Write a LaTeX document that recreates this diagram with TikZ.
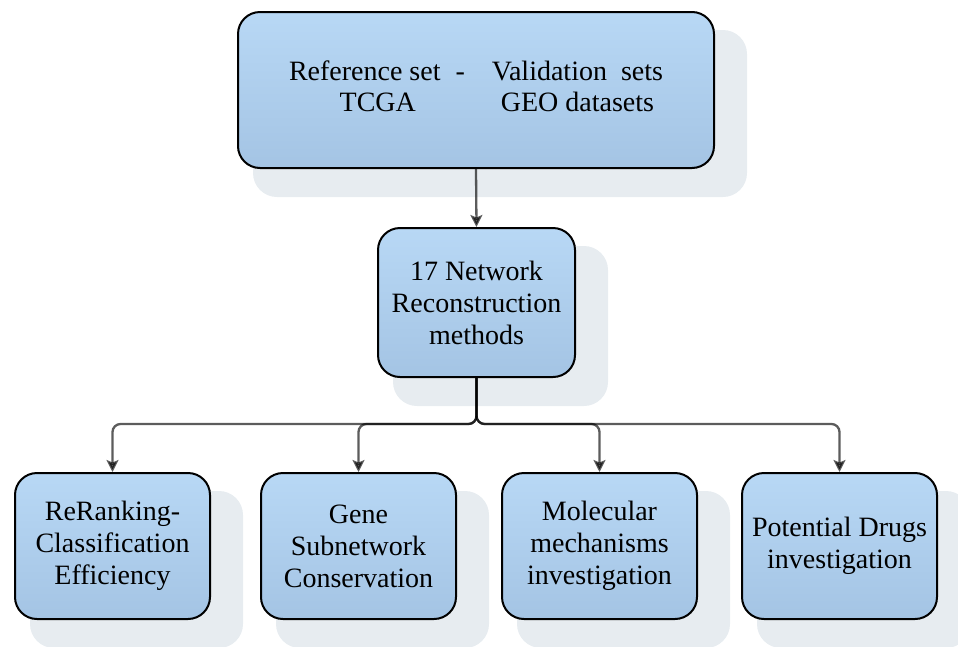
\documentclass[tikz,border=0pt]{standalone}
\usepackage{fontspec}
\setmainfont{Liberation Serif}
\usetikzlibrary{arrows.meta,calc,positioning}
\pgfdeclarelayer{bg}
\pgfsetlayers{bg,main}
\definecolor{boxtop}{RGB}{184,216,245}
\definecolor{boxbot}{RGB}{164,196,228}
\definecolor{shadowc}{RGB}{231,236,240}
\tikzset{
  flowbox/.style={draw=black, line width=2pt, rounded corners=22pt,
    top color=boxtop, bottom color=boxbot, align=center,
    font=\fontsize{28pt}{32pt}\selectfont, inner sep=0pt},
  smallbox/.style={flowbox, minimum width=195pt, minimum height=146pt},
  conn/.style={draw=black, opacity=0.64, line width=2.3pt, rounded corners=8pt,
    -{Stealth[length=12pt,width=12pt,inset=2.5pt]}},
  shadowbox/.style={fill=shadowc, rounded corners=24pt}
}
\begin{document}
\begin{tikzpicture}[x=1pt,y=-1pt]
\useasboundingbox (0,0) rectangle (958,646);
\clip (0,0) rectangle (958,646);
\node[flowbox, minimum width=476pt, minimum height=156pt] (top) at (476,90)
  {\begin{tabular}{@{}c@{\hspace{15pt}}c@{\hspace{27pt}}c@{}}
   Reference set & - & Validation\ \ sets\\[-1pt]
   \hspace{26pt}TCGA & & GEO datasets
   \end{tabular}};
\node[flowbox, minimum width=197pt, minimum height=149pt] (mid) at (476.5,302.5)
  {17 Network\\Reconstruction\\methods};
\node[smallbox] (b1) at (112.5,546) {ReRanking-\\Classification\\Efficiency};
\node[smallbox] (b2) at (358.5,546) {Gene\\Subnetwork\\Conservation};
\node[smallbox] (b3) at (599.5,546) {Molecular\\mechanisms\\investigation};
\node[smallbox] (b4) at (839.5,546) {Potential Drugs\\investigation};
\coordinate (split) at (476.5,424);
\begin{pgfonlayer}{bg}
  \foreach \n in {top,mid,b1,b2,b3,b4}{
    \path[shadowbox] ($(\n.north west)+(16,19)$) rectangle ($(\n.south east)+(32,28)$);
  }
\end{pgfonlayer}
\draw[conn] (top.south) -- (mid.north);
\draw[conn] (mid.south) -- (split) -| (b1.north);
\draw[conn] (mid.south) -- (split) -| (b2.north);
\draw[conn] (mid.south) -- (split) -| (b3.north);
\draw[conn] (mid.south) -- (split) -| (b4.north);
\end{tikzpicture}
\end{document}
